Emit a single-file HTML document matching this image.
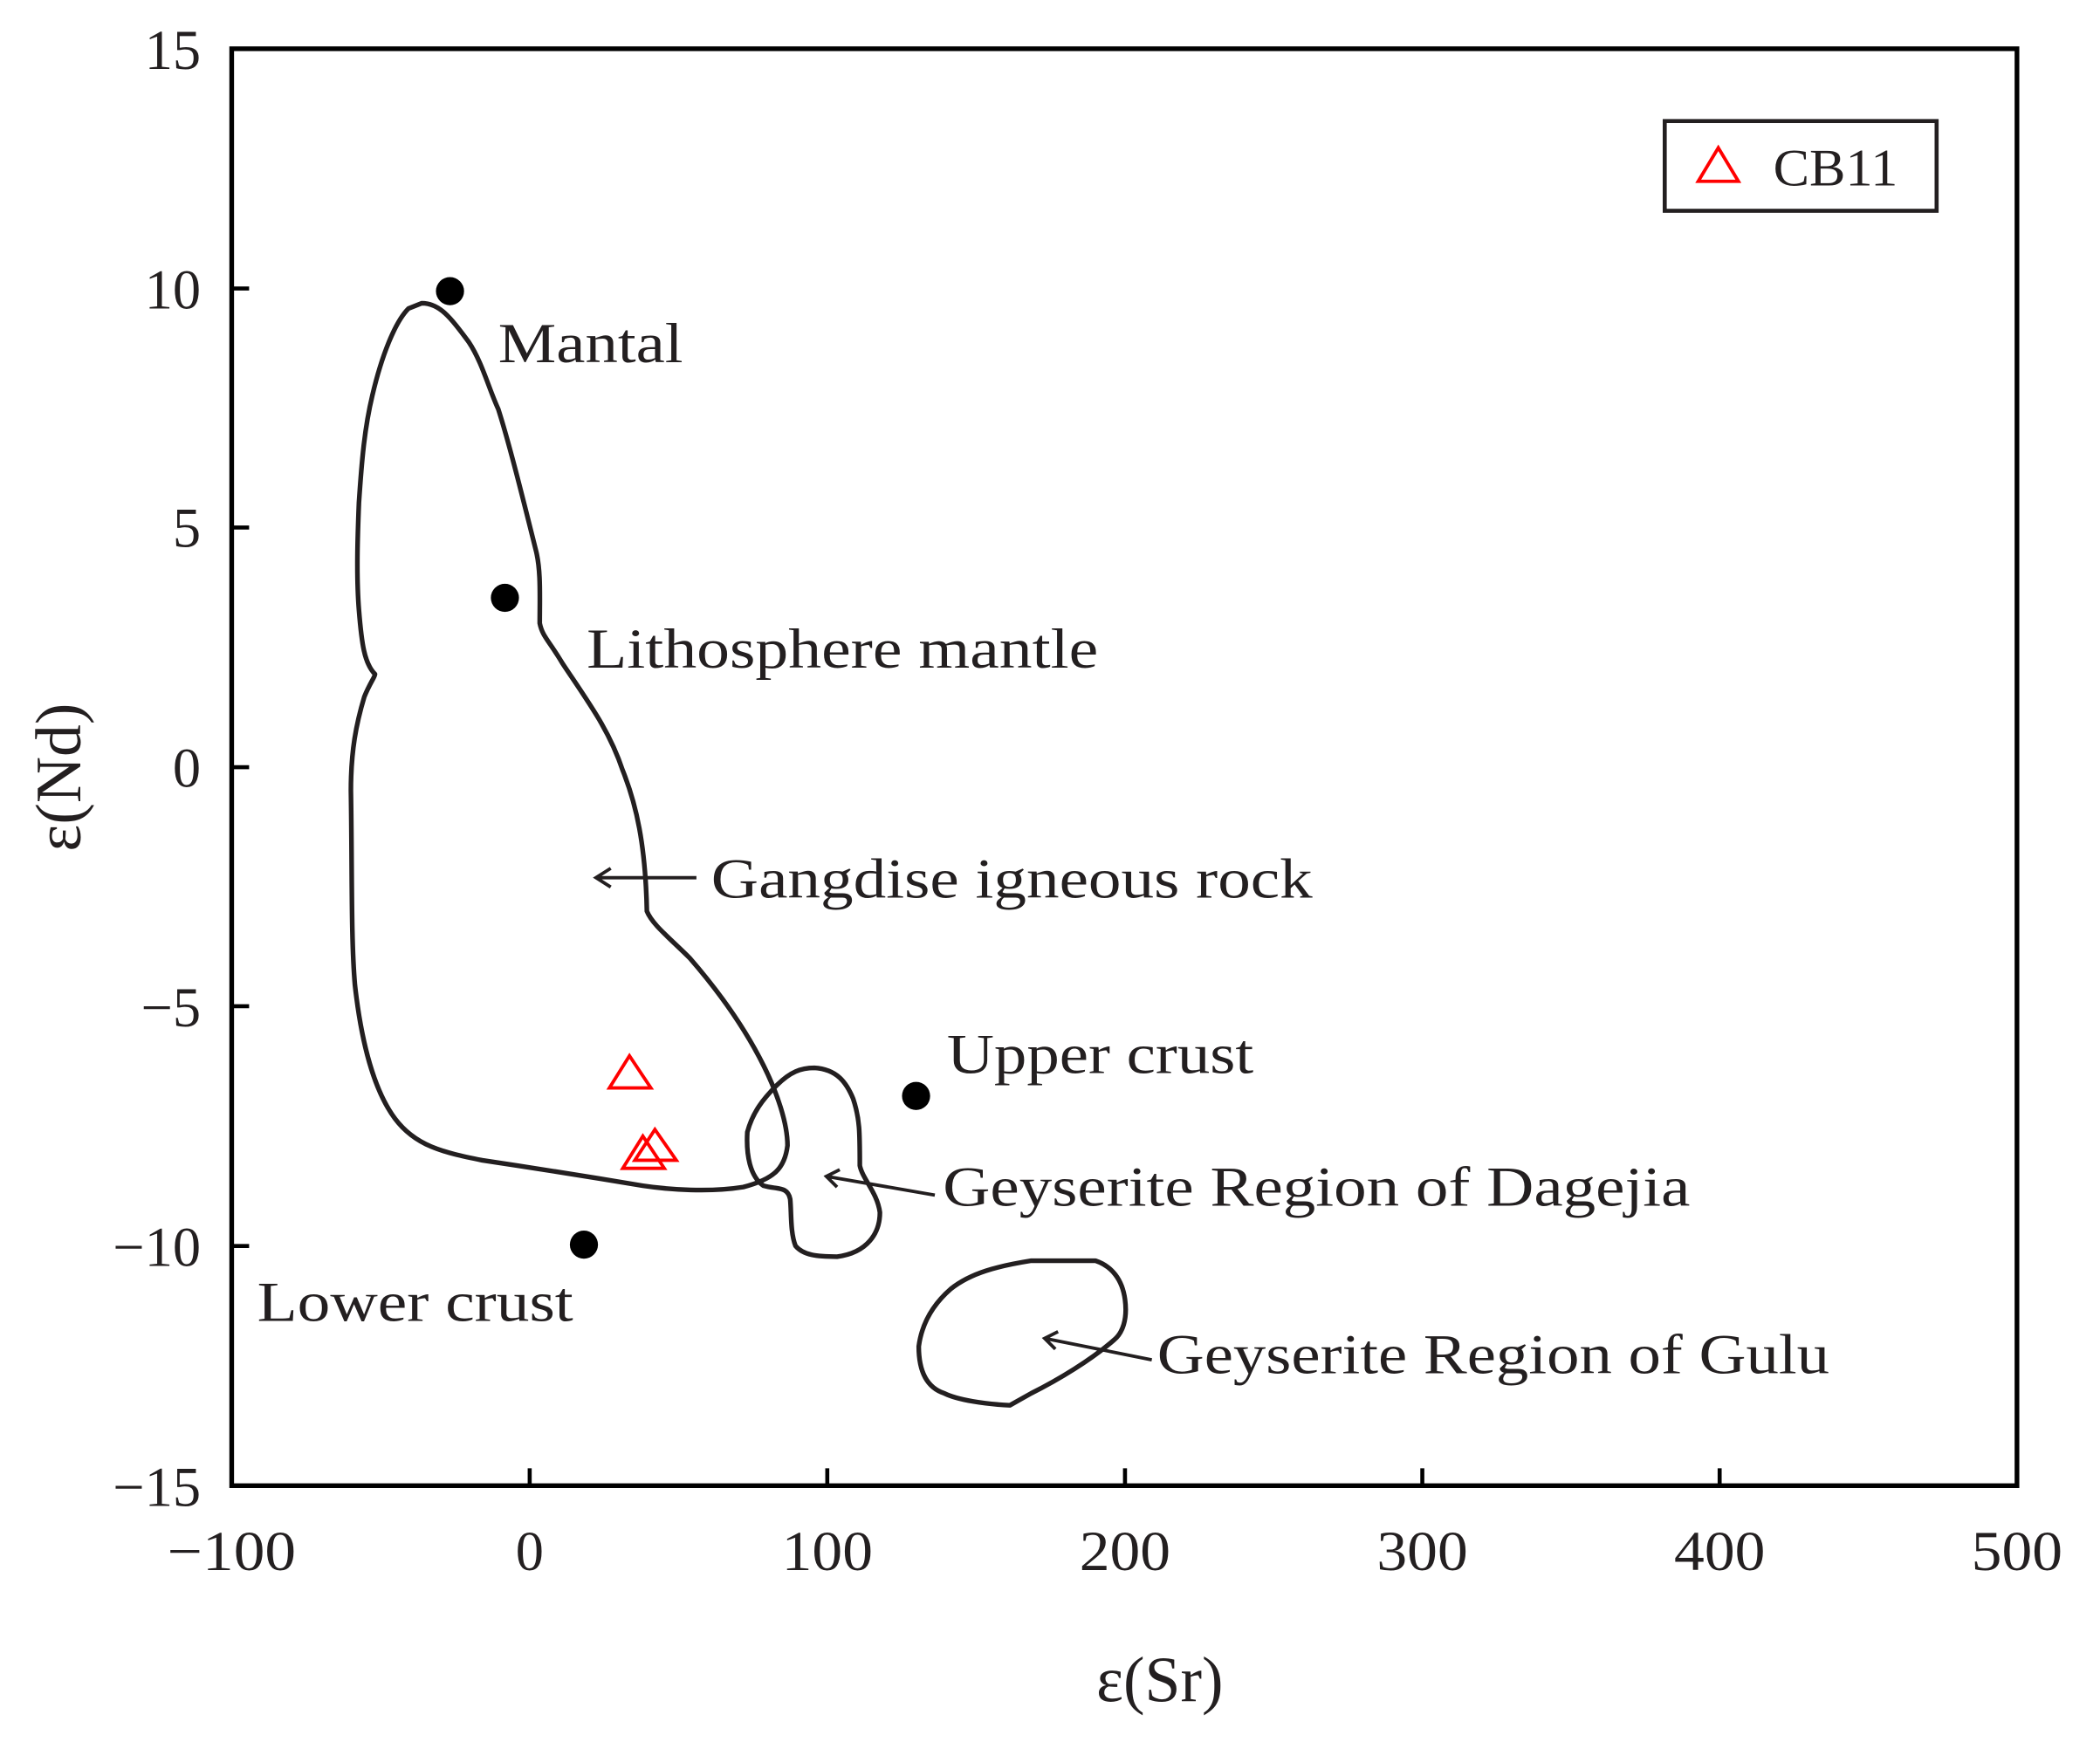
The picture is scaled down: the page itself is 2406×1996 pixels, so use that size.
<!DOCTYPE html>
<html><head><style>html,body{margin:0;padding:0;background:#fff}svg{display:block}</style></head>
<body>
<svg width="2406" height="1996" viewBox="0 0 1568 1300" xmlns="http://www.w3.org/2000/svg" font-family="Liberation Serif, serif" fill="#231f20">
<rect x="173" y="36" width="1333" height="1073" fill="none" stroke="#000" stroke-width="3.5"/>
<g stroke="#000" stroke-width="3">
<line x1="395.5" y1="1109" x2="395.5" y2="1096"/><line x1="617.7" y1="1109" x2="617.7" y2="1096"/><line x1="840" y1="1109" x2="840" y2="1096"/><line x1="1062" y1="1109" x2="1062" y2="1096"/><line x1="1284" y1="1109" x2="1284" y2="1096"/>
<line x1="173" y1="215" x2="186" y2="215"/><line x1="173" y1="393.5" x2="186" y2="393.5"/><line x1="173" y1="572.5" x2="186" y2="572.5"/><line x1="173" y1="751" x2="186" y2="751"/><line x1="173" y1="930" x2="186" y2="930"/>
</g>
<g font-size="42" text-anchor="middle">
<text x="173" y="1172" textLength="96" lengthAdjust="spacingAndGlyphs">−100</text><text x="395.5" y="1172">0</text><text x="617.7" y="1172" textLength="68" lengthAdjust="spacingAndGlyphs">100</text><text x="840" y="1172" textLength="68" lengthAdjust="spacingAndGlyphs">200</text><text x="1062" y="1172" textLength="68" lengthAdjust="spacingAndGlyphs">300</text><text x="1284" y="1172" textLength="68" lengthAdjust="spacingAndGlyphs">400</text><text x="1506" y="1172" textLength="68" lengthAdjust="spacingAndGlyphs">500</text>
</g>
<g font-size="42" text-anchor="end">
<text x="150" y="51">15</text><text x="150" y="230">10</text><text x="150" y="408">5</text><text x="150" y="587">0</text><text x="150" y="766">−5</text><text x="150" y="945">−10</text><text x="150" y="1124">−15</text>
</g>
<text x="866" y="1270" font-size="48" text-anchor="middle">ε(Sr)</text>
<text transform="translate(60,580) rotate(-90)" font-size="48" text-anchor="middle">ε(Nd)</text>
<rect x="1243" y="90" width="203" height="67" fill="none" stroke="#231f20" stroke-width="3"/>
<polygon points="1283,110 1268,135 1298,135" fill="none" stroke="#f00" stroke-width="2.5"/>
<text x="1324" y="138" font-size="39" textLength="93" lengthAdjust="spacingAndGlyphs">CB11</text>
<g fill="none" stroke="#231f20" stroke-width="3.5" stroke-linejoin="round">
<path d="M315,226 C328,226 336,236 350,255 C360,270 365,290 372,305 C380,330 390,370 400,410 C404,425 403,445 403,465 C405,475 410,478 420,495 C440,525 455,545 465,575 C475,600 482,630 483,680 C487,690 500,700 515,715 C535,738 555,765 570,795 C580,815 588,838 588,855 C586,872 578,880 555,886 C530,890 500,888 480,885 C450,880 420,875 360,866 C330,860 310,855 295,835 C280,815 270,780 265,735 C262,700 263,650 262,590 C262,560 266,540 272,520 C276,510 280,505 280,503 C272,495 270,480 268,455 C266,430 267,400 268,375 C270,345 272,320 278,295 C285,265 295,240 305,230 Z"/>
<path d="M608,797 C625,798 632,808 637,820 C642,835 642,845 642,870 C644,880 655,890 657,905 C657,920 648,935 625,938 C610,938 600,937 594,930 C590,920 591,905 590,895 C588,885 580,888 570,885 C560,878 557,862 558,845 C562,830 570,820 580,810 C590,800 598,797 608,797 Z"/>
<path d="M770,941 L818,941 C830,945 838,955 840,970 C842,985 838,995 832,1000 C815,1015 790,1030 770,1040 L754,1049 C735,1048 715,1045 705,1040 C690,1035 686,1020 686,1005 C688,990 695,975 710,962 C725,950 745,945 770,941 Z"/>
</g>
<g stroke="#231f20" stroke-width="2.5" fill="none">
<path d="M520,655 L445,655 M456,648 L445,655 L456,662"/>
<path d="M698,892 L617,878 M627,873 L617,878 L625,886"/>
<path d="M860,1015 L780,999 M790,994 L780,999 L788,1007"/>
</g>
<g fill="#000">
<circle cx="336" cy="217" r="10.5"/><circle cx="377" cy="446" r="10.5"/><circle cx="684" cy="818" r="10.5"/><circle cx="436" cy="929" r="10.5"/>
</g>
<g fill="none" stroke="#f00" stroke-width="2.5">
<polygon points="470,788 455,812 486,812"/>
<polygon points="480,848 465,872 496,872"/>
<polygon points="489,843 474,866 505,866"/>
</g>
<g font-size="42">
<text x="372" y="270" textLength="138" lengthAdjust="spacingAndGlyphs">Mantal</text>
<text x="438" y="498" textLength="382" lengthAdjust="spacingAndGlyphs">Lithosphere mantle</text>
<text x="531" y="670" textLength="449" lengthAdjust="spacingAndGlyphs">Gangdise igneous rock</text>
<text x="707" y="801" textLength="229" lengthAdjust="spacingAndGlyphs">Upper crust</text>
<text x="704" y="900" textLength="558" lengthAdjust="spacingAndGlyphs">Geyserite Region of Dagejia</text>
<text x="192" y="986" textLength="236" lengthAdjust="spacingAndGlyphs">Lower crust</text>
<text x="864" y="1025" textLength="502" lengthAdjust="spacingAndGlyphs">Geyserite Region of Gulu</text>
</g>
</svg>
</body></html>
